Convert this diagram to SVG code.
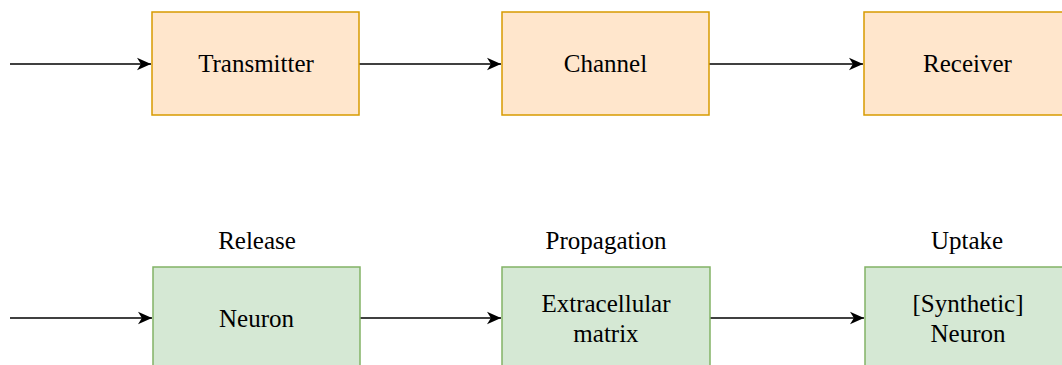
<svg xmlns="http://www.w3.org/2000/svg" width="1062" height="365" viewBox="0 0 1062 365">
<style>
.orange{fill:#ffe6cc;stroke:#d79b00;stroke-width:1.5}
.green{fill:#d5e8d4;stroke:#82b366;stroke-width:1.5}
text{font-family:"Liberation Serif","Times New Roman",serif;font-size:25px;fill:#000;text-anchor:middle}
.edge{stroke:#000;stroke-width:1.5;fill:none;marker-end:url(#arr)}
</style>
<defs>
<marker id="arr" markerWidth="14" markerHeight="14" refX="10" refY="5" orient="auto" markerUnits="userSpaceOnUse" viewBox="0 0 10 10">
<path d="M0,0.5 L10,5 L0,9.5 L2.8,5 Z" fill="#000"/>
</marker>
</defs>
<rect width="1062" height="365" fill="#fff"/>
<g id="connectors">
<path class="edge" d="M10,64 L151,64"/>
<path class="edge" d="M359,64 L501,64"/>
<path class="edge" d="M709,64 L863,64"/>
<path class="edge" d="M10,318 L152,318"/>
<path class="edge" d="M360,318 L501,318"/>
<path class="edge" d="M710,318 L864,318"/>
</g>
<g id="transmitter"><rect class="orange" x="152" y="12" width="207" height="103"/><text x="256" y="72">Transmitter</text></g>
<g id="channel"><rect class="orange" x="502" y="12" width="207" height="103"/><text x="605.5" y="72">Channel</text></g>
<g id="receiver"><rect class="orange" x="864" y="12" width="207" height="103"/><text x="967.5" y="72">Receiver</text></g>
<g id="release-label"><text x="257" y="249">Release</text></g>
<g id="propagation-label"><text x="606" y="249">Propagation</text></g>
<g id="uptake-label"><text x="967" y="249">Uptake</text></g>
<g id="neuron"><rect class="green" x="153" y="267" width="207" height="103"/><text x="256.5" y="327">Neuron</text></g>
<g id="ecm"><rect class="green" x="502" y="267" width="208" height="103"/><text x="606" y="312">Extracellular</text><text x="606" y="342">matrix</text></g>
<g id="synthetic-neuron"><rect class="green" x="865" y="267" width="207" height="103"/><text x="968" y="312">[Synthetic]</text><text x="968" y="342">Neuron</text></g>
</svg>
